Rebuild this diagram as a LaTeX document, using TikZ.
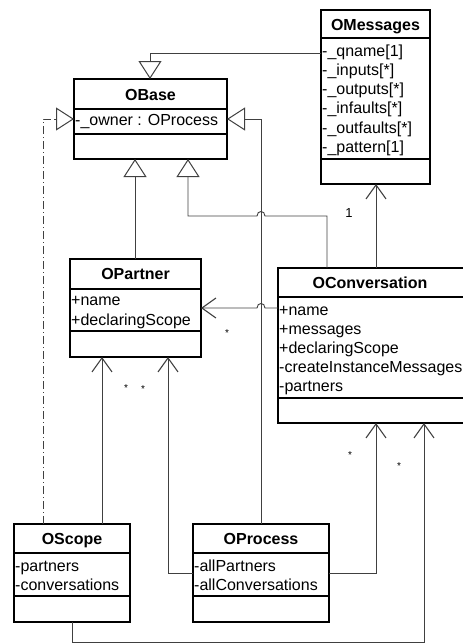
\documentclass[tikz,border=0pt]{standalone}
\usepackage{fontspec}
\setmainfont{Liberation Sans}
\usetikzlibrary{arrows.meta,calc}
\begin{document}
\begin{tikzpicture}[x=1pt,y=-1pt,
  cls/.style={draw=black,line width=1.3pt,inner sep=0pt,outer sep=0pt,anchor=north west},
  ttl/.style={inner sep=0pt,anchor=base,yshift=-6pt,font=\fontsize{16}{19}\selectfont\bfseries},
  attr/.style={inner sep=0pt,anchor=base west,yshift=-6pt,font=\fontsize{16}{19}\selectfont},
  conn/.style={draw=black!75,line width=0.9pt},
  gen/.style={conn,-{Triangle[open,length=18pt,width=23pt,line width=1pt,fill=white]}},
  assoc/.style={conn,-{Straight Barb[length=14pt,width=20pt,line width=1.1pt]}},
  realiz/.style={conn,dash pattern=on 8pt off 3pt on 1pt off 3pt},
  mult/.style={inner sep=0pt,font=\fontsize{10}{12}\selectfont}]
\useasboundingbox (0,0) rectangle (463,643);
% class boxes
\node[cls,minimum width=153pt,minimum height=80pt] (base) at (74,79) {};
\node[cls,minimum width=109pt,minimum height=174pt] (msg) at (321,10) {};
\node[cls,minimum width=131pt,minimum height=98pt] (part) at (70,259) {};
\node[cls,minimum width=192pt,minimum height=155pt] (conv) at (278,268) {};
\node[cls,minimum width=116pt,minimum height=98pt] (scope) at (14,524) {};
\node[cls,minimum width=136pt,minimum height=98pt] (proc) at (193,524) {};
% separators
\draw[line width=1.3pt] (74,109) -- (227,109) (74,134) -- (227,134);
\draw[line width=1.3pt] (321,38) -- (430,38) (321,159) -- (430,159);
\draw[line width=1.3pt] (70,289) -- (201,289) (70,331) -- (201,331);
\draw[line width=1.3pt] (278,297) -- (470,297) (278,398) -- (470,398);
\draw[line width=1.3pt] (14,553) -- (130,553) (14,596) -- (130,596);
\draw[line width=1.3pt] (193,553) -- (329,553) (193,596) -- (329,596);
% titles
\node[ttl] (tbase) at (150.5,94) {OBase};
\node[ttl] (tmsg) at (375.5,24) {OMessages};
\node[ttl] (tpart) at (135.5,273) {OPartner};
\node[ttl] (tconv) at (370,282) {OConversation};
\node[ttl] (tscope) at (72,538) {OScope};
\node[ttl] (tproc) at (261,538) {OProcess};
% attributes
\node[attr] (a1) at (75,119) {-\_owner : OProcess};
\node[attr] (m1) at (322,50) {-\_qname[1]};
\node[attr] (m2) at (322,69) {-\_inputs[*]};
\node[attr] (m3) at (322,88) {-\_outputs[*]};
\node[attr] (m4) at (322,107.5) {-\_infaults[*]};
\node[attr] (m5) at (322,127) {-\_outfaults[*]};
\node[attr] (m6) at (322,146.5) {-\_pattern[1]};
\node[attr] (p1) at (71,299) {+name};
\node[attr] (p2) at (71,319) {+declaringScope};
\node[attr] (c1) at (279,309) {+name};
\node[attr] (c2) at (279,328) {+messages};
\node[attr] (c3) at (279,347) {+declaringScope};
\node[attr] (c4) at (279,366) {-createInstanceMessages};
\node[attr] (c5) at (279,385) {-partners};
\node[attr] (s1) at (15,565) {-partners};
\node[attr] (s2) at (15,584) {-conversations};
\node[attr] (r1) at (194,565) {-allPartners};
\node[attr] (r2) at (194,584) {-allConversations};
% generalizations
\draw[gen] ($(msg.north west)+(0,43)$) -| ($(base.north west)+(76,0)$);
\draw[gen] ($(part.north west)+(65,0)$) -- ($(base.south west)+(61,0)$);
\draw[gen] ($(conv.north west)+(49,0)$) -- ($(conv.north west)+(49,-52)$) -- (265,216)
  .. controls (265,210) and (257,210) .. (257,216) -- ($(base.south west)+(114,57)$) -- ($(base.south west)+(114,0)$);
\draw[gen] ($(proc.north west)+(68,0)$) |- ($(base.north east)+(0,40)$);
\draw[realiz] ($(scope.north west)+(29,0)$) |- ($(base.north west)+(-18,40)$);
\draw[conn,-{Triangle[open,length=18pt,width=23pt,line width=1pt,fill=white]}] ($(base.north west)+(-19,40)$) -- ($(base.north west)+(0,40)$);
% associations
\draw[assoc] ($(conv.north west)+(98,0)$) -- ($(msg.south west)+(55,0)$);
\node[mult,font=\fontsize{13}{15}\selectfont] (l1) at (349,213) {1};
\draw[assoc] ($(conv.north west)+(0,40)$) -- (265,308) .. controls (265,302) and (257,302) .. (257,308) -- ($(part.north east)+(0,49)$);
\node[mult] (l2) at (227,333) {*};
\draw[assoc] ($(scope.north west)+(88,0)$) -- ($(part.south west)+(32,0)$);
\node[mult] (l3) at (126,388) {*};
\draw[assoc] ($(proc.north west)+(0,49)$) -| ($(part.south west)+(98,0)$);
\node[mult] (l4) at (143,389) {*};
\draw[assoc] ($(proc.north east)+(0,49)$) -| ($(conv.south west)+(98,0)$);
\node[mult] (l5) at (350,455) {*};
\draw[assoc] ($(scope.south west)+(58,0)$) -- ($(scope.south west)+(58,20)$) -| ($(conv.south west)+(146,0)$);
\node[mult] (l6) at (399,466) {*};
\end{tikzpicture}
\end{document}
